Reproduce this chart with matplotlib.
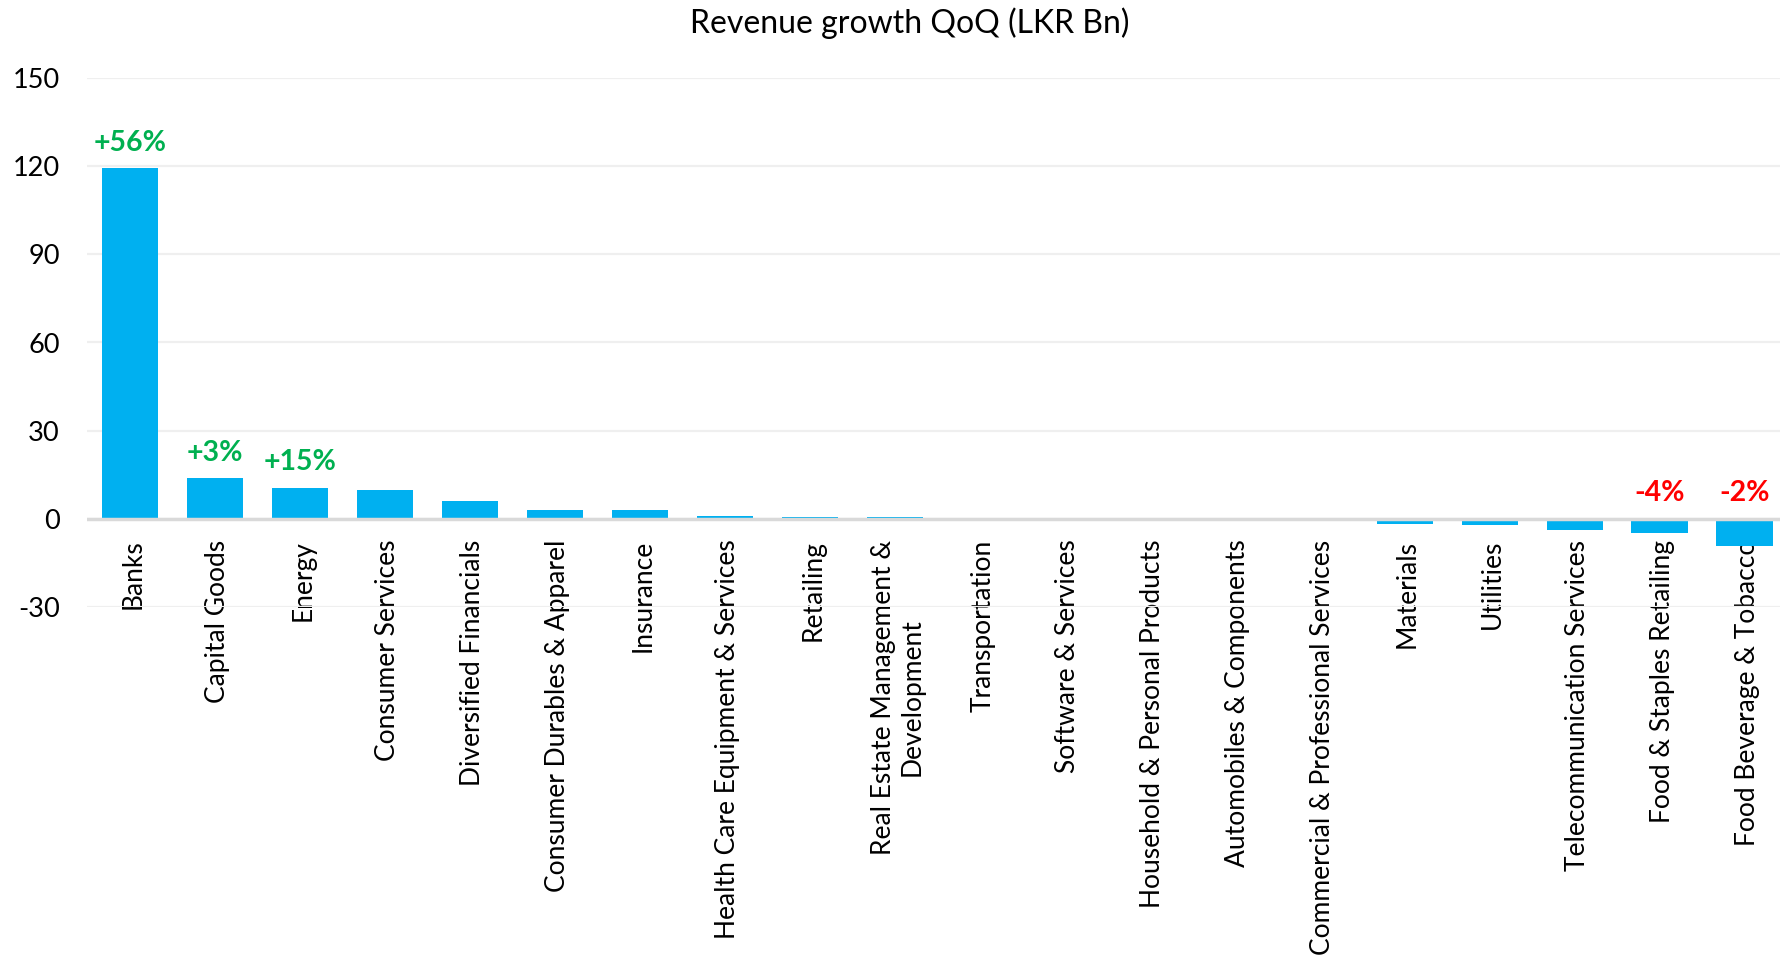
import matplotlib.pyplot as plt
import matplotlib.transforms as mtransforms
import numpy as np

BAR_COLOR = '#00B0F0'
UP_COLOR = '#00B050'
DOWN_COLOR = '#FF0000'

sectors = [
    'Banks', 'Capital Goods', 'Energy', 'Consumer Services',
    'Diversified Financials', 'Consumer Durables & Apparel', 'Insurance',
    'Health Care Equipment & Services', 'Retailing',
    'Real Estate Management &\nDevelopment', 'Transportation',
    'Software & Services', 'Household & Personal Products',
    'Automobiles & Components', 'Commercial & Professional Services',
    'Materials', 'Utilities', 'Telecommunication Services',
    'Food & Staples Retailing', 'Food Beverage & Tobacco',
]
growth = [119.3, 13.8, 10.6, 9.9, 6.1, 3.1, 3.1, 0.8, 0.5, 0.5,
          0.0, 0.0, 0.0, 0.0, 0.0, -1.7, -2.0, -3.8, -4.7, -9.2]

# percentage call-outs: sector index -> label
pct_labels = {0: '+56%', 1: '+3%', 2: '+15%', 18: '-4%', 19: '-2%'}

plt.rcParams['font.family'] = ['Lato', 'DejaVu Sans']
plt.rcParams['axes.unicode_minus'] = False

fig = plt.figure(figsize=(17.81, 9.63), dpi=100)
ax = fig.add_axes([87.5 / 1781, 1 - 607 / 963, (1787 - 87.5) / 1781, (607 - 78) / 963])

x = np.arange(len(sectors))
ax.bar(x, growth, width=0.66, color=BAR_COLOR, zorder=3)

ax.set_xlim(-0.5, len(sectors) - 0.5)
ax.set_ylim(-30, 150)
ax.set_yticks(np.arange(-30, 151, 30))
ax.yaxis.grid(True, color='#EFEFEF', linewidth=1.6, zorder=0)
ax.axhline(0, color='#D9D9D9', linewidth=2.5, zorder=4)

for s in ax.spines.values():
    s.set_visible(False)
ax.spines['bottom'].set_position(('data', 0))

ax.set_xticks(x)
ax.set_xticklabels(sectors, rotation=90, va='top', ha='center',
                   multialignment='center', fontsize=19)
ax.tick_params(axis='x', length=0, pad=15)
ax.tick_params(axis='y', length=0, pad=20, labelsize=19.5)

# nudge rotated labels so the glyphs sit centred under the bars
shift = mtransforms.ScaledTranslation(3 / 100, 0, fig.dpi_scale_trans)
for lbl in ax.get_xticklabels():
    lbl.set_transform(lbl.get_transform() + shift)

for i, txt in pct_labels.items():
    val = growth[i]
    base = val if val > 0 else 0
    ax.annotate(txt, (i, base), xytext=(0, 9), textcoords='offset points',
                ha='center', va='bottom', fontsize=20.5, fontweight='bold',
                color=UP_COLOR if txt.startswith('+') else DOWN_COLOR,
                zorder=5)

fig.text(910 / 1781, 1 - 23 / 963, 'Revenue growth QoQ (LKR Bn)',
         ha='center', va='center', fontsize=23)

fig.savefig('out.png', dpi=100)
